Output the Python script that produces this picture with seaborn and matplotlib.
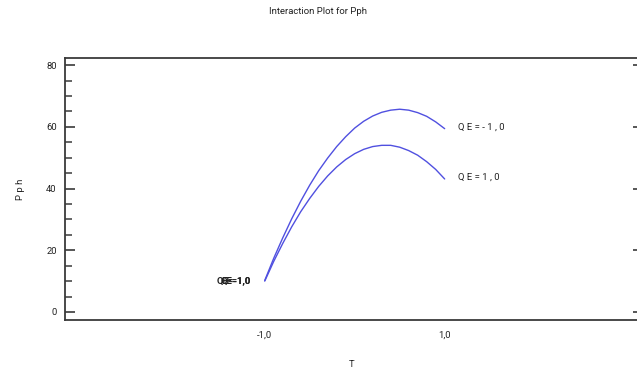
import numpy as np
import pandas as pd
import matplotlib
matplotlib.use("Agg")
import matplotlib.pyplot as plt
from matplotlib.ticker import MultipleLocator, FixedLocator, NullFormatter
import seaborn as sns

# Factor levels of T (coded) and fitted Pph response for each QE level
t_levels = [-1.0, -0.9, -0.8, -0.7, -0.6, -0.5, -0.4, -0.3, -0.2, -0.1, 0.0,
            0.1, 0.2, 0.3, 0.4, 0.5, 0.6, 0.7, 0.8, 0.9, 1.0]
pph_qe_minus = [10.2, 17.4, 24.0, 30.2, 35.9, 41.1, 45.8, 49.9, 53.6, 56.8, 59.6,
                61.8, 63.5, 64.7, 65.4, 65.7, 65.4, 64.6, 63.4, 61.6, 59.4]
pph_qe_plus = [10.0, 16.4, 22.2, 27.6, 32.5, 36.8, 40.7, 44.1, 47.0, 49.4, 51.3,
               52.7, 53.6, 54.0, 54.0, 53.4, 52.3, 50.8, 48.7, 46.2, 43.1]
qe_names = ["QE=-1,0", "QE=1,0"]
end_labels = ["Q E = - 1 , 0", "Q E = 1 , 0"]
x_ticks = [-1.0, 1.0]
x_tick_labels = ["-1,0", "1,0"]
y_ticks = [0, 20, 40, 60, 80]

df = pd.DataFrame({
    "T": t_levels * 2,
    "Pph": pph_qe_minus + pph_qe_plus,
    "QE": [qe_names[0]] * len(t_levels) + [qe_names[1]] * len(t_levels),
})

sns.set_style("white")
plt.rcParams["font.family"] = ["Roboto", "DejaVu Sans"]

fig = plt.figure(figsize=(6.37, 3.72), dpi=100)
ax = fig.add_axes([65 / 637, 1 - 320 / 372, (639 - 65) / 637, (320 - 58) / 372])

line_color = "#5050e0"
sns.lineplot(data=df, x="T", y="Pph", hue="QE", palette=[line_color, line_color],
             sort=True, legend=False, linewidth=1.0, ax=ax)

ax.set_xlim(-3.22, 3.16)
ax.set_ylim(-2.6, 82.3)

# Curve labels at the ends of each line
series = [pph_qe_minus, pph_qe_plus]
for lab, vals in zip(end_labels, series):
    ax.text(t_levels[-1] + 0.145, vals[-1] + 0.6, lab, fontsize=6.8,
            color="#222222", ha="left", va="center")
# Both series start at the same point, so their start labels print over each other
for name, vals in zip(qe_names, series):
    ax.text(t_levels[0] - 0.155, vals[0], name, fontsize=6.8, color="#222222",
            ha="right", va="center", fontweight="bold")

# Axes frame and ticks
for side in ["left", "bottom", "top"]:
    ax.spines[side].set_color("#3a3a3a")
    ax.spines[side].set_linewidth(1.3)
ax.spines["right"].set_visible(False)

ax.xaxis.set_major_locator(FixedLocator(x_ticks))
ax.set_xticklabels(x_tick_labels)
ax.yaxis.set_major_locator(FixedLocator(y_ticks))
ax.yaxis.set_minor_locator(MultipleLocator(5))
ax.tick_params(axis="x", which="both", length=0, pad=8, labelsize=6.8,
               labelcolor="#222222")
ax.tick_params(axis="y", which="major", direction="in", length=7.5, width=1.2,
               color="#3a3a3a", left=True, right=False, labelsize=6.8,
               labelcolor="#222222", pad=6)
ax.tick_params(axis="y", which="minor", direction="in", length=5, width=1.1,
               color="#3a3a3a", left=True, right=False)

# Short inward ticks on the right edge
ax_r = ax.twinx()
ax_r.set_ylim(ax.get_ylim())
ax_r.yaxis.set_major_locator(FixedLocator(y_ticks))
ax_r.yaxis.set_major_formatter(NullFormatter())
ax_r.tick_params(axis="y", direction="in", length=4, width=1.2, color="#3a3a3a")
for side in ax_r.spines:
    ax_r.spines[side].set_visible(False)

ax.set_xlabel("T", fontsize=6.8, color="#222222", labelpad=14)
ax.set_ylabel("P p h", fontsize=6.8, color="#222222", labelpad=15)
fig.text(318 / 637, 1 - 12 / 372, "Interaction Plot for Pph", fontsize=6.8,
         color="#222222", ha="center", va="center")

fig.savefig("out.png", dpi=100)
